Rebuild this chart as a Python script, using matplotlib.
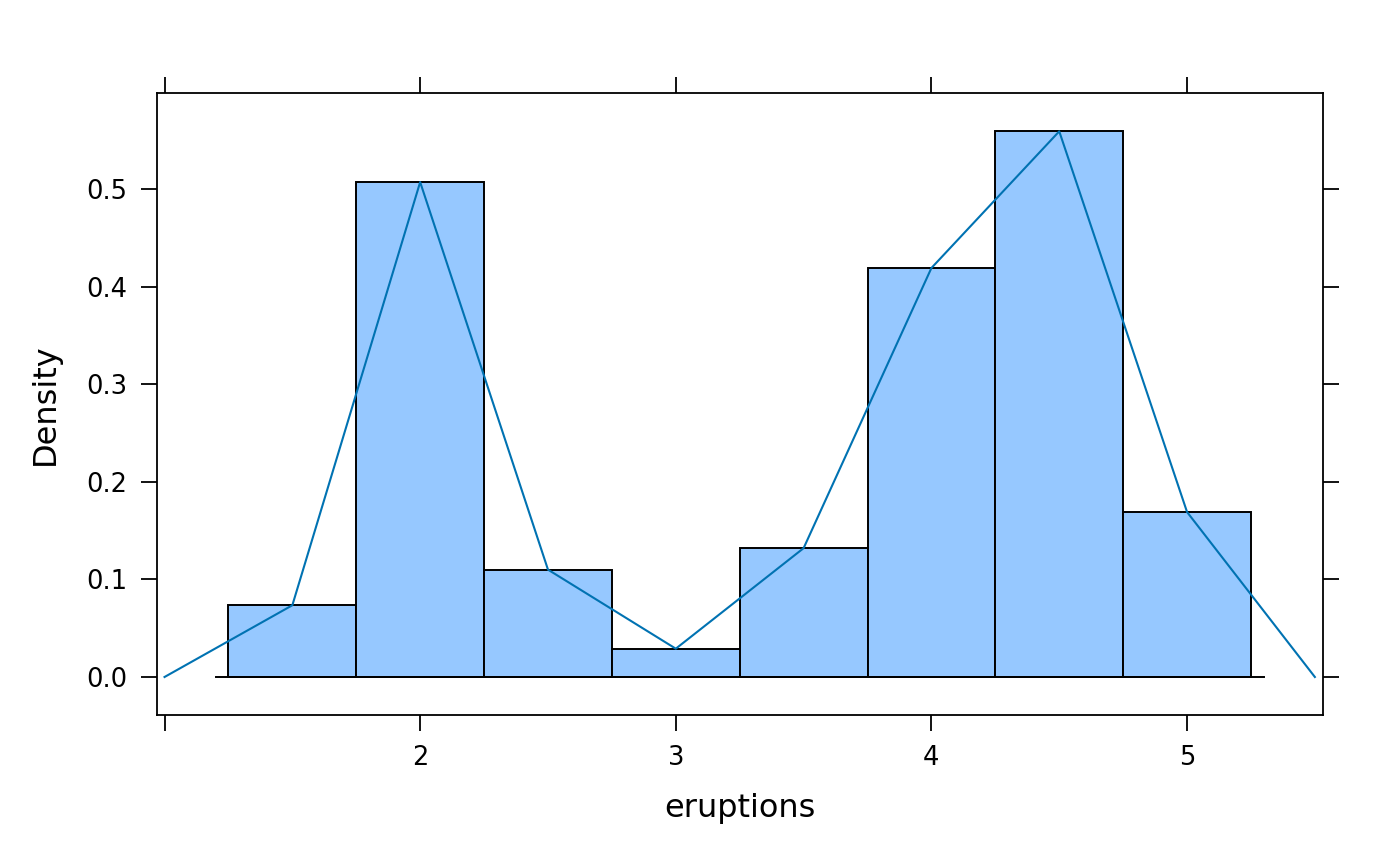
import numpy as np
import matplotlib
matplotlib.use("Agg")
import matplotlib.pyplot as plt

# histogram of eruptions (density scale), bins of width 0.5
breaks = [1.25, 1.75, 2.25, 2.75, 3.25, 3.75, 4.25, 4.75, 5.25]
density = [0.0735, 0.507, 0.110, 0.029, 0.132, 0.419, 0.559, 0.169]

# frequency polygon points (bin mids, padded with zeros at both ends)
poly_x = [1.0, 1.5, 2.0, 2.5, 3.0, 3.5, 4.0, 4.5, 5.0, 5.5]
poly_y = [0.0, 0.0735, 0.507, 0.110, 0.029, 0.132, 0.419, 0.559, 0.169, 0.0]

xticks = [1, 2, 3, 4, 5]
xticklabels = ["", "2", "3", "4", "5"]
yticks = [0.0, 0.1, 0.2, 0.3, 0.4, 0.5]

fill_col = "#96C8FF"
line_col = "#0072B2"

fig = plt.figure(figsize=(14, 8.66), dpi=100)
ax = fig.add_axes([0.1121, 0.1744, 0.8327, 0.7179])

left = np.array(breaks[:-1])
width = np.diff(breaks)
ax.bar(left, density, width=width, align="edge", color=fill_col,
       edgecolor="black", linewidth=1.4, zorder=2)
ax.plot([breaks[0] - 0.05, breaks[-1] + 0.05], [0, 0], color="black",
        linewidth=1.4, zorder=3)
ax.plot(poly_x, poly_y, color=line_col, linewidth=1.5, zorder=4)

ax.set_xlim(0.9703, 5.5307)
ax.set_ylim(-0.0389, 0.598)

ax.set_xticks(xticks)
ax.set_xticklabels(xticklabels)
ax.set_yticks(yticks)
ax.set_yticklabels([f"{v:.1f}" for v in yticks])

ax.tick_params(axis="both", direction="out", length=11.5, width=1.3,
               labelsize=18.5, top=True, right=True,
               labeltop=False, labelright=False)
ax.tick_params(axis="x", pad=10)
ax.tick_params(axis="y", pad=10)

for s in ax.spines.values():
    s.set_linewidth(1.3)

ax.set_xlabel("eruptions", fontsize=23, labelpad=16)
ax.set_ylabel("Density", fontsize=23, labelpad=18)

fig.savefig("out.png", dpi=100)
